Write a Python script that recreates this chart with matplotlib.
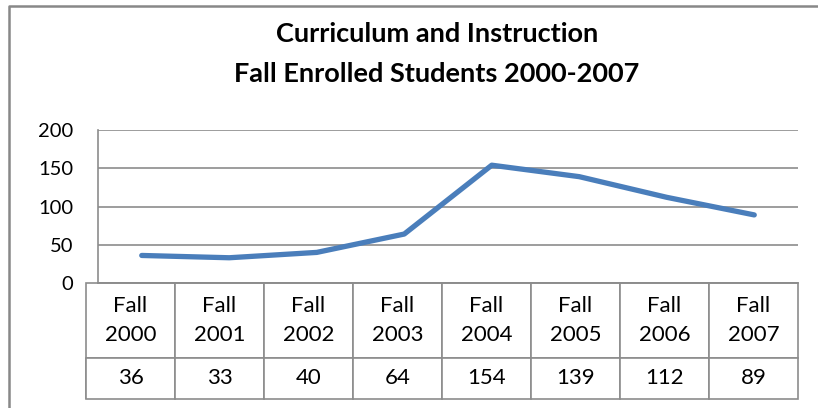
import matplotlib.pyplot as plt
from matplotlib.lines import Line2D

plt.rcParams['font.family'] = ['Lato', 'DejaVu Sans']

years = ['Fall\n2000', 'Fall\n2001', 'Fall\n2002', 'Fall\n2003',
         'Fall\n2004', 'Fall\n2005', 'Fall\n2006', 'Fall\n2007']
students = [36, 33, 40, 64, 154, 139, 112, 89]
yticks = [0, 50, 100, 150, 200]

W, H = 818, 408
fig = plt.figure(figsize=(W / 100, H / 100), dpi=100)

# plot area in pixels: x 98..798, y 130..283
ax = fig.add_axes([98 / W, (H - 283) / H, 700 / W, 153 / H])

x = [i + 0.5 for i in range(len(students))]
ax.plot(x, students, color='#4A7EBB', lw=3.8, solid_capstyle='round', zorder=3)

ax.set_xlim(0, len(students))
ax.set_ylim(0, 200)
ax.set_yticks(yticks)
ax.set_xticks([])
ax.yaxis.grid(True, color='#8C8C8C', lw=1.2)
ax.set_axisbelow(True)
ax.tick_params(axis='y', length=0, pad=18, labelsize=14.5, labelcolor='black')
for s in ['top', 'right']:
    ax.spines[s].set_visible(False)
for s in ['left', 'bottom']:
    ax.spines[s].set_color('#8C8C8C')
    ax.spines[s].set_linewidth(1.2)

# data table below the plot (top at 283px, bottom at 399px, left at 86px)
tab = ax.table(cellText=[[str(v) for v in students]], colLabels=years,
               rowLabels=[''], cellLoc='center',
               bbox=[-12 / 700, -116 / 153, 712 / 700, 116 / 153])
tab.auto_set_font_size(False)
tab.set_fontsize(16)
for (r, c), cell in tab.get_celld().items():
    cell.set_edgecolor('#8C8C8C')
    cell.set_linewidth(1.2)
    cell.set_width(12 if c == -1 else 87.5)
    cell.set_height(75 if r == 0 else 41)
    cell.get_text().set_linespacing(1.55)

# title
fig.text(437 / W, 1 - 42 / H, 'Curriculum and Instruction', ha='center',
         va='baseline', fontsize=19.5, fontweight='bold')
fig.text(437 / W, 1 - 82 / H, 'Fall Enrolled Students 2000-2007', ha='center',
         va='baseline', fontsize=19.5, fontweight='bold')

# outer chart frame (left and top edges visible)
fig.add_artist(Line2D([8.5 / W, 8.5 / W, 1.0], [0, 1 - 6 / H, 1 - 6 / H],
                      transform=fig.transFigure, color='#888888', lw=1.8))

fig.savefig('out.png', dpi=100)
